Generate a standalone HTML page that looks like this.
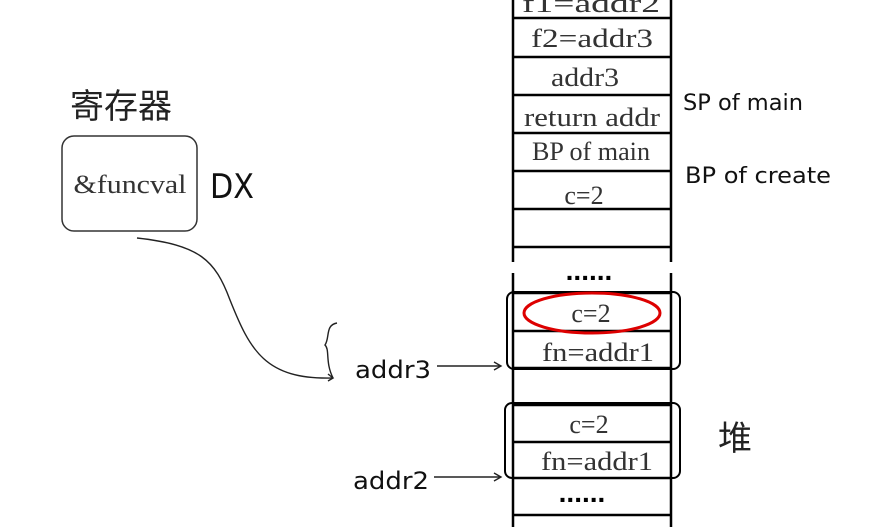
<!DOCTYPE html>
<html><head><meta charset="utf-8"><style>
body{margin:0;background:#fff;width:893px;height:527px;overflow:hidden}
</style></head><body>
<svg width="893" height="527" xmlns="http://www.w3.org/2000/svg" style="position:absolute;left:0;top:0">
<g stroke="#000" stroke-width="2.5" fill="none">
<line x1="513" y1="0" x2="513" y2="262"/><line x1="671" y1="0" x2="671" y2="262"/>
<line x1="513" y1="273" x2="513" y2="527"/><line x1="671" y1="273" x2="671" y2="527"/>
<line x1="513" y1="18" x2="671" y2="18"/><line x1="513" y1="57" x2="671" y2="57"/>
<line x1="513" y1="95" x2="671" y2="95"/><line x1="513" y1="133" x2="671" y2="133"/>
<line x1="513" y1="171" x2="671" y2="171"/><line x1="513" y1="209" x2="671" y2="209"/>
<line x1="513" y1="247" x2="671" y2="247"/>
<line x1="513" y1="293" x2="671" y2="293"/><line x1="513" y1="331" x2="671" y2="331"/>
<line x1="513" y1="368" x2="671" y2="368"/><line x1="513" y1="405" x2="671" y2="405"/>
<line x1="513" y1="442" x2="671" y2="442"/><line x1="513" y1="478" x2="671" y2="478"/>
<line x1="513" y1="515" x2="671" y2="515"/>
<rect x="507" y="292" width="173" height="77" rx="7" stroke-width="2"/>
<rect x="505" y="403" width="175" height="75" rx="7" stroke-width="2"/>
</g>
<ellipse cx="592" cy="313" rx="68" ry="20" fill="none" stroke="#d00" stroke-width="3"/>
<g font-family="Liberation Serif, serif" font-size="26" fill="#333" text-anchor="middle">
<text x="591" y="12" textLength="138" lengthAdjust="spacingAndGlyphs">f1=addr2</text>
<text x="592" y="47" textLength="122" lengthAdjust="spacingAndGlyphs">f2=addr3</text>
<text x="585" y="86" textLength="68" lengthAdjust="spacingAndGlyphs">addr3</text>
<text x="592" y="126" textLength="136" lengthAdjust="spacingAndGlyphs">return addr</text>
<text x="591" y="160" textLength="118" lengthAdjust="spacingAndGlyphs">BP of main</text>
<text x="584" y="204">c=2</text>
<text x="591" y="322">c=2</text>
<text x="598" y="361" textLength="112" lengthAdjust="spacingAndGlyphs">fn=addr1</text>
<text x="589" y="433">c=2</text>
<text x="597" y="470" textLength="112" lengthAdjust="spacingAndGlyphs">fn=addr1</text>
<text x="130" y="193" textLength="113" lengthAdjust="spacingAndGlyphs">&amp;funcval</text>
</g>
<g font-family="Liberation Sans, sans-serif" font-size="28" font-weight="bold" fill="#000" text-anchor="middle">
<text x="589" y="280">......</text>
<text x="582" y="502">......</text>
</g>
<g font-family="DejaVu Sans, sans-serif" font-size="22" fill="#111">
<text x="683" y="110" textLength="120" lengthAdjust="spacingAndGlyphs">SP of main</text>
<text x="685" y="183" textLength="146" lengthAdjust="spacingAndGlyphs">BP of create</text>
<text x="355" y="378" font-size="24" textLength="76" lengthAdjust="spacingAndGlyphs">addr3</text>
<text x="353" y="489" font-size="24" textLength="76" lengthAdjust="spacingAndGlyphs">addr2</text>
<text x="210" y="198" font-size="34" textLength="44" lengthAdjust="spacingAndGlyphs">DX</text>
</g>
<text x="70" y="118" font-family="Noto Sans CJK SC, sans-serif" font-size="34" fill="#222">寄存器</text>
<text x="718" y="450" font-family="Noto Sans CJK SC, sans-serif" font-size="34" fill="#222">堆</text>
<rect x="62" y="136" width="135" height="95" rx="12" fill="none" stroke="#333" stroke-width="1.5"/>
<g stroke="#222" stroke-width="1.4" fill="none">
<path d="M137 238 C200 245 215 260 230 300 C250 350 265 380 333 378"/>
<path d="M328 374 L333 378 L328 381"/>
<path d="M337 323 C325 325 330 338 325 345 C330 350 325 362 333 378"/>
<line x1="437" y1="366" x2="500" y2="366"/><path d="M494 362 L501 366 L494 370"/>
<line x1="434" y1="477" x2="500" y2="477"/><path d="M494 473 L501 477 L494 481"/>
</g>
</svg>
</body></html>
